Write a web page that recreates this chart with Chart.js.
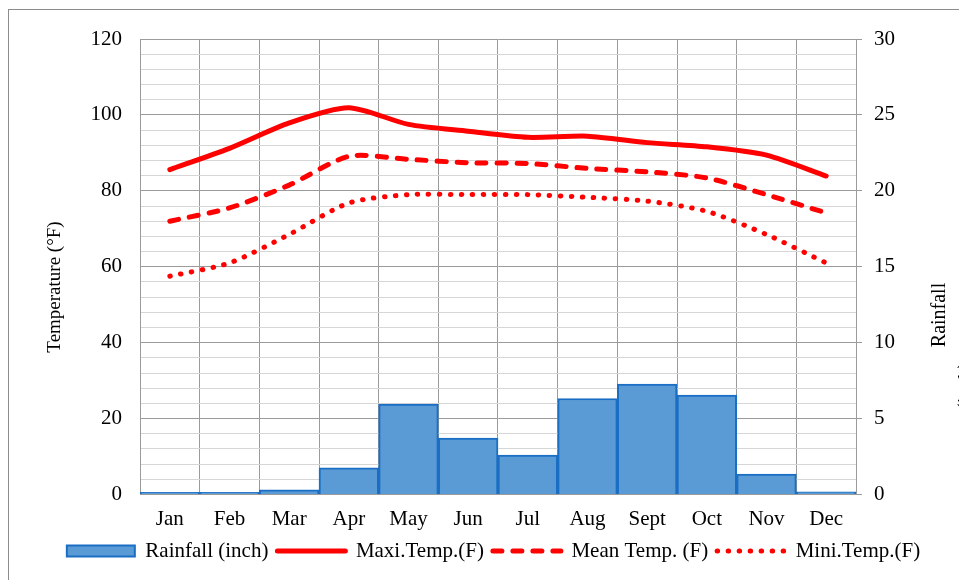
<!doctype html>
<html lang="en">
<head>
<meta charset="utf-8">
<title>Temperature and Rainfall</title>
<style>
    html, body {
        margin: 0;
        padding: 0;
        background: white;
        overflow: hidden;
    }
    #wrap {
        position: absolute;
        left: 0;
        top: 0;
    }
</style>
</head>
<body>
<div id="wrap">
    <canvas id="myChart" width="988" height="580"></canvas>
</div>
<script src="https://cdn.jsdelivr.net/npm/chart.js"></script>
<script>
    // data
    const months = ['Jan', 'Feb', 'Mar', 'Apr', 'May', 'Jun', 'Jul', 'Aug', 'Sept', 'Oct', 'Nov', 'Dec'];
    const rainfall = [0.15, 0.15, 0.3, 1.75, 5.95, 3.72, 2.6, 6.32, 7.28, 6.55, 1.35, 0.18];
    const maxTemp = [85.6, 91.2, 97.9, 101.9, 97.5, 95.7, 94.1, 94.4, 92.7, 91.6, 89.4, 83.9];
    const meanTemp = [72.0, 75.5, 81.5, 89.1, 88.3, 87.4, 87.2, 85.9, 85.0, 83.4, 79.0, 74.2];
    const minTemp = [57.5, 61.0, 68.5, 76.8, 79.0, 79.0, 79.0, 78.3, 77.3, 74.6, 68.5, 61.0];
    const tempTicks = [0, 20, 40, 60, 80, 100, 120];
    const rainTicks = [0, 5, 10, 15, 20, 25, 30];
    const leftTitle = 'Temperature (°F)';
    const rightTitle = ['Rainfall', '(inch)'];

    const RED = '#ff0000';
    const MAJOR = '#9b9b9b';
    const MINOR = '#d6d6d6';

    Chart.defaults.font.family = "'Liberation Serif', 'Times New Roman', serif";
    Chart.defaults.font.size = 21;
    Chart.defaults.color = '#000';

    // frame + rotated axis titles
    const extras = {
        id: 'extras',
        afterDraw: (chart) => {
            const ctx = chart.ctx;
            ctx.save();
            ctx.strokeStyle = '#8c8c8c';
            ctx.lineWidth = 1;
            ctx.strokeRect(8.5, 9.5, 970, 600);

            ctx.fillStyle = '#000';
            ctx.font = "19px 'Liberation Serif', 'Times New Roman', serif";
            ctx.textAlign = 'center';
            ctx.textBaseline = 'middle';

            ctx.save();
            ctx.translate(55, 287);
            ctx.rotate(-Math.PI / 2);
            ctx.fillText(leftTitle, 0, 0);
            ctx.restore();

            ctx.font = "20px 'Liberation Serif', 'Times New Roman', serif";
            ctx.save();
            ctx.translate(940, 315);
            ctx.rotate(-Math.PI / 2);
            ctx.fillText(rightTitle[0], 0, 0);
            ctx.restore();

            ctx.save();
            ctx.translate(967, 386);
            ctx.rotate(-Math.PI / 2);
            ctx.fillText(rightTitle[1], 0, 0);
            ctx.restore();
            ctx.restore();
        }
    };

    const data = {
        labels: months,
        datasets: [{
            type: 'bar',
            label: 'Rainfall (inch)',
            data: rainfall,
            yAxisID: 'y1',
            backgroundColor: '#5b9bd5',
            borderColor: '#1a6fc4',
            borderWidth: 2,
            barPercentage: 1,
            categoryPercentage: 1,
            order: 1
        }, {
            type: 'line',
            label: 'Maxi.Temp.(F)',
            data: maxTemp,
            yAxisID: 'y',
            borderColor: RED,
            backgroundColor: RED,
            borderWidth: 5,
            borderCapStyle: 'round',
            tension: 0.25,
            pointRadius: 0,
            order: 0
        }, {
            type: 'line',
            label: 'Mean Temp. (F)',
            data: meanTemp,
            yAxisID: 'y',
            borderColor: RED,
            backgroundColor: RED,
            borderWidth: 5,
            borderDash: [9, 11],
            borderCapStyle: 'round',
            tension: 0.25,
            pointRadius: 0,
            order: 0
        }, {
            type: 'line',
            label: 'Mini.Temp.(F)',
            data: minTemp,
            yAxisID: 'y',
            borderColor: RED,
            backgroundColor: RED,
            borderWidth: 5,
            borderDash: [0.5, 10.5],
            borderCapStyle: 'round',
            tension: 0.25,
            pointRadius: 0,
            order: 0
        }]
    };

    const config = {
        data: data,
        options: {
            responsive: false,
            animation: false,
            devicePixelRatio: 1,
            layout: {
                padding: { left: 8, right: 9, top: 39, bottom: 8.5 }
            },
            plugins: {
                legend: {
                    position: 'bottom',
                    labels: {
                        usePointStyle: true,
                        pointStyleWidth: 68,
                        boxHeight: 11,
                        padding: 9,
                        color: '#000',
                        font: { size: 21 },
                        sort: (a, b) => a.datasetIndex - b.datasetIndex,
                        generateLabels: (chart) => {
                            const items = Chart.defaults.plugins.legend.labels.generateLabels(chart);
                            items.forEach((it) => {
                                const ds = chart.data.datasets[it.datasetIndex];
                                if (ds.type === 'bar') {
                                    it.pointStyle = 'rect';
                                    it.fillStyle = ds.backgroundColor;
                                    it.strokeStyle = ds.borderColor;
                                    it.lineWidth = ds.borderWidth;
                                } else {
                                    it.pointStyle = 'line';
                                    it.strokeStyle = ds.borderColor;
                                    it.lineWidth = ds.borderWidth;
                                    it.lineDash = ds.borderDash || [];
                                    it.lineCap = ds.borderCapStyle;
                                }
                            });
                            return items;
                        }
                    }
                },
                tooltip: { enabled: false }
            },
            scales: {
                x: {
                    offset: true,
                    grid: {
                        offset: true,
                        color: MAJOR,
                        drawTicks: false
                    },
                    border: { color: MAJOR },
                    ticks: { padding: 12, maxRotation: 0 },
                    afterFit: (scale) => { scale.height = 37; }
                },
                y: {
                    position: 'left',
                    min: 0,
                    max: 120,
                    afterBuildTicks: (scale) => {
                        const t = [];
                        for (let v = 0; v <= 120; v += 4) t.push({ value: v });
                        scale.ticks = t;
                    },
                    grid: {
                        drawTicks: false,
                        color: (c) => tempTicks.includes(c.tick.value) ? MAJOR : MINOR
                    },
                    border: { color: MAJOR },
                    ticks: {
                        padding: 18,
                        autoSkip: false,
                        callback: (v) => tempTicks.includes(v) ? String(v) : ''
                    },
                    afterFit: (scale) => { scale.width = 132; }
                },
                y1: {
                    position: 'right',
                    min: 0,
                    max: 30,
                    afterBuildTicks: (scale) => {
                        scale.ticks = rainTicks.map(v => ({ value: v }));
                    },
                    grid: {
                        drawOnChartArea: false,
                        drawTicks: true,
                        tickLength: 6,
                        color: MAJOR
                    },
                    border: { color: MAJOR },
                    ticks: { padding: 12 },
                    afterFit: (scale) => { scale.width = 123; }
                }
            }
        },
        plugins: [extras]
    };

    const myChart = new Chart(document.getElementById('myChart'), config);
</script>
</body>
</html>
